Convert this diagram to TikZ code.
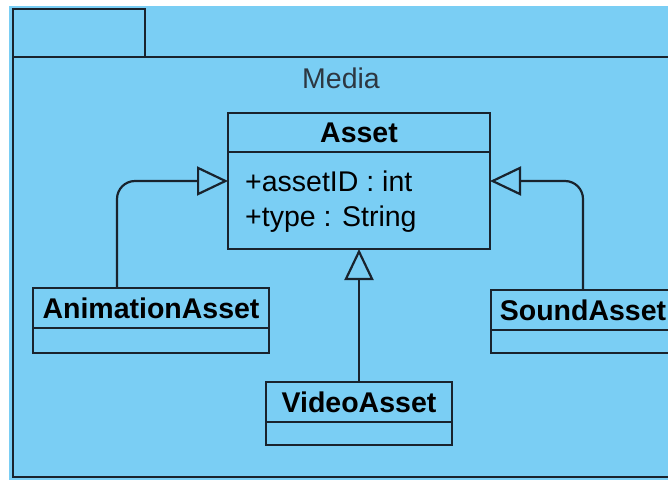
\documentclass[tikz,border=0pt]{standalone}
\usepackage{fontspec}
\setmainfont{Liberation Sans}
\usetikzlibrary{arrows.meta}
\definecolor{pkgblue}{RGB}{122,206,244}
\definecolor{ink}{RGB}{25,35,45}
\definecolor{labelgray}{RGB}{45,55,65}

\begin{document}
\begin{tikzpicture}[x=1pt,y=-1pt,
  every node/.style={font=\fontsize{28.5}{34}\selectfont, text=black},
  box/.style={draw=ink, line width=2.2pt, inner sep=0pt, outer sep=0pt},
  classname/.style={box, font=\fontsize{28.5}{34}\selectfont\bfseries},
  attr/.style={anchor=base west, inner sep=0pt},
  gen/.style={draw=ink, line width=2.2pt, rounded corners=18pt,
    -{Triangle[open, length=31pt, width=29pt]}}
]
\useasboundingbox (0,0) rectangle (668,480);
\clip (0,0) rectangle (668,480);
\fill[white] (0,0) rectangle (668,480);
\fill[pkgblue] (9,6) rectangle (668,480);

% package frame with its tab
\node[box, minimum width=132pt, minimum height=48pt] (tab) at (79,33) {};
\node[box, minimum width=656pt, minimum height=420pt] (pkg) at (341,267) {};
\node[anchor=base, inner sep=0pt, text=labelgray] (media) at (341,88) {Media};

% Asset class
\node[classname, minimum width=262pt, minimum height=39pt] (assetH) at (359,132.5) {Asset};
\node[box, minimum width=262pt, minimum height=97pt, anchor=north] (assetB) at (assetH.south) {};
\node[attr] (attrA) at (245,191) {+assetID : int};
\node[attr] (attrB) at (245,226) {+type : String};

% subclasses
\node[classname, minimum width=236pt, minimum height=40pt] (animH) at (151,308) {AnimationAsset};
\node[box, minimum width=236pt, minimum height=25pt, anchor=north] (animB) at (animH.south) {};

\node[classname, minimum width=186pt, minimum height=40pt] (videoH) at (359,402) {VideoAsset};
\node[box, minimum width=186pt, minimum height=23pt, anchor=north] (videoB) at (videoH.south) {};

\node[classname, minimum width=184pt, minimum height=40pt] (soundH) at (583,310) {SoundAsset};
\node[box, minimum width=184pt, minimum height=23pt, anchor=north] (soundB) at (soundH.south) {};

% generalisation arrows
\draw[gen] ([xshift=-34pt]animH.north) |- ([yshift=19.5pt]assetB.west);
\draw[gen] (soundH.north) |- ([yshift=19.5pt]assetB.east);
\draw[gen] (videoH.north) -- (assetB.south);
\end{tikzpicture}
\end{document}
